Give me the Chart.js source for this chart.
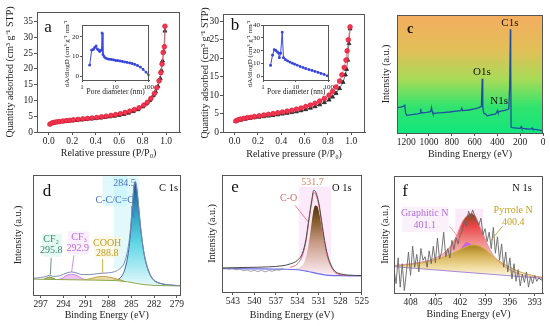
<!DOCTYPE html>
<html>
<head>
<meta charset="utf-8">
<script src="https://cdn.jsdelivr.net/npm/chart.js@4.4.0/dist/chart.umd.min.js"></script>
<style>
  body { margin: 0; background: #fff; }
  #wrap { position: relative; width: 550px; height: 326px; overflow: hidden; }
  canvas { position: absolute; }
</style>
</head>
<body>
<div id="wrap">
  <canvas id="pa"></canvas>
  <canvas id="pb"></canvas>
  <canvas id="pc"></canvas>
  <canvas id="pd"></canvas>
  <canvas id="pe"></canvas>
  <canvas id="pf"></canvas>
  <canvas id="ia"></canvas>
  <canvas id="ib"></canvas>
</div>
<script>
// -----------------------------
// Data: N2 isotherms (a, b)
// -----------------------------
const aAdsP = [0.01,0.03,0.05,0.07,0.09,0.12,0.15,0.18,0.21,0.25,0.29,0.33,0.37,0.41,0.45,0.49,0.53,0.57,0.61,0.65,0.69,0.73,0.77,0.81,0.84,0.87,0.90,0.92,0.94,0.955,0.965,0.975,0.985,0.99];
const aAdsQ = [2.5,2.9,3.1,3.2,3.3,3.45,3.6,3.7,3.85,4.0,4.15,4.3,4.45,4.6,4.8,5.0,5.25,5.5,5.8,6.2,6.6,7.1,7.7,8.5,9.4,10.6,12.2,14.0,16.2,18.8,21.5,25.2,27.0,33.5];
const aDesP = [0.99,0.98,0.97,0.96,0.95,0.93,0.91,0.89,0.86,0.83,0.80,0.76,0.72,0.68,0.64,0.60,0.56,0.52,0.48,0.44,0.40,0.36,0.32,0.28,0.24,0.20,0.16,0.12,0.08,0.04,0.01];
const aDesQ = [32.0,25.5,22.5,19.5,17.0,14.5,12.8,11.5,10.0,8.9,8.0,7.1,6.5,6.0,5.6,5.3,5.05,4.85,4.65,4.45,4.3,4.15,4.0,3.85,3.7,3.55,3.4,3.25,3.05,2.8,2.4];

const bAdsP = [0.01,0.03,0.05,0.08,0.11,0.14,0.17,0.21,0.25,0.29,0.33,0.37,0.41,0.45,0.49,0.53,0.57,0.61,0.65,0.69,0.73,0.77,0.81,0.84,0.87,0.90,0.92,0.94,0.955,0.965,0.975,0.99];
const bAdsQ = [3.0,3.3,3.5,3.7,3.9,4.0,4.2,4.4,4.6,4.8,5.0,5.2,5.4,5.65,5.9,6.2,6.5,6.9,7.3,7.8,8.4,9.1,10.0,11.0,12.2,13.8,15.5,17.5,19.5,22.0,25.0,28.5];
const bDesP = [0.99,0.98,0.97,0.96,0.95,0.93,0.90,0.87,0.84,0.81,0.77,0.73,0.69,0.65,0.61,0.57,0.53,0.49,0.45,0.41,0.37,0.33,0.29,0.25,0.21,0.17,0.13,0.09,0.05,0.01];
const bDesQ = [28.0,24.0,19.5,17.0,15.5,13.5,11.8,10.5,9.5,8.7,8.0,7.4,6.9,6.5,6.1,5.8,5.5,5.3,5.1,4.9,4.7,4.5,4.35,4.2,4.05,3.9,3.7,3.5,3.2,2.9];

const isoTicksX = [0, 0.2, 0.4, 0.6, 0.8, 1.0];
const aTicksY = [0, 5, 10, 15, 20, 25, 30, 35];
const bTicksY = [0, 5, 10, 15, 20, 25, 30];

// pore size distributions (insets)
const aPoreD = [1.7,1.95,2.2,2.4,2.65,2.9,3.15,3.4,3.65,3.85,4.0,4.25,4.6,5.1,5.8,6.6,7.6,8.8,10.2,11.8,13.8,16.2,19,22.5,27,32,38,46,56,68,83,100];
const aPoreV = [5.6,13.3,13.6,14.6,15.4,13.8,13.2,12.6,13.2,13.3,22.0,11.0,10.0,9.2,8.8,8.6,8.5,8.3,8.0,7.9,7.7,7.5,7.2,7.0,6.7,6.4,6.0,5.4,4.6,3.4,2.0,0.6];
const bPoreD = [1.7,1.95,2.2,2.45,2.75,3.0,3.15,3.45,3.85,4.2,4.8,5.6,6.6,7.8,9.2,11,13.5,16.5,20,25,31,38,47,58,72,92];
const bPoreV = [8.5,16.5,20.8,20.2,19.0,18.0,14.5,18.0,34.5,14.5,13.0,12.0,11.0,10.2,9.4,8.6,7.6,6.8,6.0,5.2,4.5,3.8,3.0,2.2,1.4,0.3];
const poreTicksX = [1, 10, 100];
const aPoreTicksY = [0, 10, 20];
const bPoreTicksY = [0, 10, 20, 30, 40];

// -----------------------------
// Data: XPS survey (c)
// -----------------------------
const cBE = [1280,1250,1225,1212,1205,1195,1150,1100,1075,1072,1068,1020,985,978,972,965,940,880,820,760,720,712,705,650,600,560,540,533,528,520,505,490,470,450,420,405,400,395,370,345,320,300,292,286,283,280,270,230,200,190,185,150,120,100,95,90,60,30,0];
const cCounts = [21.5,22.0,22.5,23.5,17.0,15.0,15.5,16.2,16.8,20.5,17.0,17.5,18.0,21.5,18.5,16.5,16.8,17.3,17.8,18.5,19.0,21.0,19.0,19.5,20.5,21.5,22.5,46,22,17,16,14.5,15.0,15.5,16.0,17.5,19.0,17.5,18.5,19,19.5,20.5,40,88,60,5,4.5,4.2,4.0,5.5,4.0,3.6,3.3,3.6,4.2,3.2,2.8,2.4,1.8];
const cTicksX = [1200, 1000, 800, 600, 400, 200, 0];

// -----------------------------
// Data: C 1s (d)
// -----------------------------
const dEnvBE = [298,297,296.3,295.8,295.3,294.5,293.5,292.9,292.3,291.5,290.5,289.5,288.8,288,287.2,286.5,286,285.6,285.2,284.9,284.7,284.5,284.3,284.1,283.8,283.4,283,282.5,282,281,280,279,278.5];
const dEnv = [14,14.5,15.5,16.5,15.5,16,18.5,19.2,18.5,17,17,17.8,18.2,18.5,19.5,22,26,34,50,72,88,95,90,78,58,38,26,17,12.5,9.5,8.5,8,7.8];
const dBgBE = [298,290,287,285.5,284.5,283.5,282,278.5];
const dBg = [13.2,12.4,12.0,11.0,9.8,8.8,8.0,7.5];
const dCCBE = [288,287,286.5,286,285.6,285.2,284.9,284.7,284.5,284.3,284.1,283.8,283.4,283,282.5,282,281,280,279,278.5];
const dCC = [12.0,12.5,14,19,28,46,70,87,94,89,77,57,37,25,16.5,12,9.3,8.3,7.8,7.5];
const dCF3BE = [294.8,294,293.5,292.9,292.3,291.6,291];
const dCF3 = [12.5,14.5,16.5,17.3,16.5,14,12.3];
const dCOOHBE = [291.5,290.5,289.5,288.8,288,287,286];
const dCOOH = [12.1,13.5,15,15.5,15,13.5,11.8];
const dCF2BE = [296.6,296.2,295.8,295.4,295];
const dCF2 = [13,14.2,15,14.2,13];
const dTicksX = [297, 294, 291, 288, 285, 282, 279];

// -----------------------------
// Data: O 1s (e)
// -----------------------------
const eEnvBE = [545,541,538,536,535,534,533.3,532.8,532.4,532,531.7,531.4,531,530.6,530.2,529.8,529.3,528.8,528,527,525];
const eEnv = [20.5,21,21.5,22.5,24,27,33,45,62,78,87,85,76,60,44,32,23,18,15.5,14.5,14];
const eCompBE = [535,534,533.3,532.8,532.4,532,531.7,531.4,531,530.6,530.2,529.8,529.3,528.8,528,527];
const eComp = [21,24,31,43,60,76,85,83,74,58,42,30,22,17,14.8,14.2];
const eFillBE = [534.5,533.5,533,532.5,532.1,531.8,531.5,531.2,530.9,530.5,530.1,529.6,529,528.3,527.5];
const eFill = [19.5,22,26,38,55,68,74,73,66,52,38,26,19,15.5,14.3];
const eBgBE = [545,540,536,534,532.5,531,530,528,525];
const eBg = [20,19.8,19.5,19,17.5,15.5,14.5,14,13.8];
const eRawBE = [544,543.5,543,542.5,542,541.5,541,540.5,540,539.5,539,538.5,538,537.5,537,536.5,536];
const eRaw = [20.2,19.6,20.0,19.0,19.6,18.2,18.9,17.6,18.6,17.4,18.5,17.2,18.3,17.8,18.9,18.6,20.0];
const eTicksX = [543, 540, 537, 534, 531, 528, 525];

// -----------------------------
// Data: N 1s (f)
// -----------------------------
const fRawBE = [410,409.75,409.5,409.25,409,408.75,408.5,408.25,408,407.75,407.5,407.25,407,406.75,406.5,406.25,406,405.75,405.5,405.25,405,404.75,404.5,404.25,404,403.75,403.5,403.25,403,402.75,402.5,402.25,402,401.75,401.5,401.25,401,400.75,400.5,400.25,400,399.75,399.5,399.25,399,398.75,398.5,398.25,398,397.75,397.5,397.25,397,396.75,396.5,396.25,396,395.75,395.5,395.25,395,394.75,394.5,394.25,394,393.75,393.5,393.25,393,392.75,392.5,392.25,392];
const fRaw = [20,8,30,5,25,2,18,35,15,40,22,33,18,38,28,31,22,36,25,40,26,47,29,35,52,31,38,30,45,37,47,42,50,53,61,57,70,65,71,66,62,58,64,50,55,44,52,38,56,34,48,28,42,22,35,18,30,12,25,10,20,6,16,9,18,5,14,8,15,10,13,11,12];
const fEnvBE = [410,408,406,405,404,403.2,402.5,401.8,401.2,400.7,400.2,399.7,399.2,398.8,398,397.2,396.5,395.5,394.5,393,392];
const fEnv = [23.5,25,27.5,30,34,40,48,60,66,68,66,58,50,43,32,26,22,18,15.5,14,13.5];
const fPyrBE = [410,408,406,404.5,403.3,402.3,401.3,400.4,399.5,398.7,398,397,396,395,394,393,392];
const fPyr = [23,24.5,26.5,29.5,32.6,36,39.5,41,39.5,35.5,31,26,22,18.5,16.5,14.5,13];
const fGraBE = [403.5,402.8,402.2,401.7,401.2,400.7,400.2,399.6,399];
const fGra = [24,28,34,39.5,43,41,36,30,24];
const fBgBE = [410,392];
const fBg = [22.5,12.5];
const fTicksX = [408, 405, 402, 399, 396, 393];

// -----------------------------
// Helpers
// -----------------------------
const SERIF = "'Liberation Serif', 'Times New Roman', serif";
Chart.defaults.font.family = SERIF;
Chart.defaults.color = '#222';
Chart.defaults.animation = false;
Chart.defaults.responsive = false;
Chart.defaults.plugins.legend.display = false;
Chart.defaults.plugins.tooltip.enabled = false;
Chart.defaults.elements.point.radius = 0;
Chart.defaults.elements.line.borderWidth = 1;

function place(id, left, top, w, h) {
    const c = document.getElementById(id);
    c.width = w; c.height = h;
    c.style.left = left + 'px'; c.style.top = top + 'px';
    return c;
}

function pts(xs, ys) {
    return xs.map((v, i) => ({ x: v, y: ys[i] }));
}

function bottomAxis(o) {
    return {
        type: o.log ? 'logarithmic' : 'linear',
        min: o.min, max: o.max, reverse: !!o.reverse,
        afterBuildTicks: s => { s.ticks = o.ticks.map(v => ({ value: v })); },
        afterFit: s => { s.height = o.size; },
        grid: { drawOnChartArea: false, tickLength: o.tickLen || 3, color: '#555' },
        border: { color: '#555' },
        ticks: { font: { size: o.font || 9.5 }, color: '#222', padding: 1, maxRotation: 0, autoSkip: false, callback: o.fmt || (v => String(v)) },
        title: { display: true, text: o.title, font: { size: o.titleFont || 10 }, color: '#222', padding: { top: 0, bottom: o.titlePad || 0 } }
    };
}

function leftAxis(o) {
    const axis = {
        type: 'linear', min: o.min, max: o.max,
        afterFit: s => { s.width = o.size; },
        grid: { drawOnChartArea: false, tickLength: o.tickLen || 3, color: '#555', display: !!o.ticks },
        border: { color: '#555' },
        ticks: { display: !!o.ticks, font: { size: o.font || 9.5 }, color: '#222', padding: 1 },
        title: { display: true, text: o.title, font: { size: o.titleFont || 10 }, color: '#222', padding: { top: o.titlePad || 0, bottom: 0 } }
    };
    if (o.ticks) axis.afterBuildTicks = s => { s.ticks = o.ticks.map(v => ({ value: v })); };
    return axis;
}

// vertical gradient between two data levels of the y scale
function vGrad(stops, yTop, yBottom) {
    return ctx => {
        const chart = ctx.chart;
        if (!chart.chartArea) return 'transparent';
        const y = chart.scales.y;
        const g = chart.ctx.createLinearGradient(0, y.getPixelForValue(yTop), 0, y.getPixelForValue(yBottom));
        stops.forEach(s => g.addColorStop(s[0], s[1]));
        return g;
    };
}

// -----------------------------
// Plugins: frame box, notes (glow boxes, leader lines, labels)
// -----------------------------
const framePlugin = {
    id: 'frame',
    beforeDraw(chart, args, opts) {
        if (!opts.background) return;
        const a = chart.chartArea, c = chart.ctx;
        c.save();
        c.fillStyle = opts.background;
        c.fillRect(a.left, a.top, a.width, a.height);
        c.restore();
    },
    afterDraw(chart) {
        const a = chart.chartArea, c = chart.ctx;
        c.save();
        c.strokeStyle = '#555';
        c.lineWidth = 1;
        c.strokeRect(Math.round(a.left) + 0.5, Math.round(a.top) + 0.5, Math.round(a.width) - 1, Math.round(a.height));
        c.restore();
    }
};

const notesPlugin = {
    id: 'notes',
    beforeDatasetsDraw(chart, args, opts) {
        const { ctx, scales: { x, y } } = chart;
        (opts.boxes || []).forEach(b => {
            const x1 = x.getPixelForValue(b.x1), x2 = x.getPixelForValue(b.x2);
            const y1 = y.getPixelForValue(b.y1), y2 = y.getPixelForValue(b.y2);
            ctx.save();
            ctx.fillStyle = b.color;
            ctx.fillRect(Math.min(x1, x2), Math.min(y1, y2), Math.abs(x2 - x1), Math.abs(y2 - y1));
            ctx.restore();
        });
    },
    afterDatasetsDraw(chart, args, opts) {
        const { ctx, chartArea, scales: { x, y } } = chart;
        ctx.save();
        (opts.lines || []).forEach(l => {
            ctx.strokeStyle = l.color;
            ctx.lineWidth = 0.8;
            ctx.beginPath();
            ctx.moveTo(x.getPixelForValue(l.x1), y.getPixelForValue(l.y1));
            ctx.lineTo(x.getPixelForValue(l.x2), y.getPixelForValue(l.y2));
            ctx.stroke();
        });
        ctx.textAlign = 'center';
        ctx.textBaseline = 'middle';
        (opts.labels || []).forEach(t => {
            ctx.font = (t.bold ? 'bold ' : '') + (t.size || 10) + 'px ' + SERIF;
            ctx.fillStyle = t.color || '#111';
            let px, py;
            if (t.dx !== undefined) {
                px = t.dx >= 0 ? chartArea.left + t.dx : chartArea.right + t.dx;
                py = chartArea.top + t.dy;
            } else {
                px = x.getPixelForValue(t.x);
                py = y.getPixelForValue(t.y);
            }
            ctx.fillText(t.text, px, py);
        });
        ctx.restore();
    }
};

const surveyBgPlugin = {
    id: 'surveyBg',
    beforeDraw(chart) {
        const a = chart.chartArea, c = chart.ctx;
        const g = c.createLinearGradient(0, a.top, 0, a.bottom);
        g.addColorStop(0, '#f4ad60');
        g.addColorStop(0.3, '#e2bf58');
        g.addColorStop(0.55, '#a6dc58');
        g.addColorStop(0.78, '#30e46e');
        g.addColorStop(1, '#12e67c');
        c.save();
        c.fillStyle = g;
        c.fillRect(a.left, a.top, a.width, a.height);
        c.restore();
    }
};

const fmt1 = v => v.toFixed(1);

// -----------------------------
// (a) isotherm
// -----------------------------
new Chart(place('pa', 0, 0, 185, 160), {
    type: 'line',
    data: { datasets: [
        { data: pts(aAdsP, aAdsQ), borderColor: '#f06a80', backgroundColor: '#f2364f', pointBorderColor: '#e0203c', pointRadius: 2.3, borderWidth: 0.8 },
        { data: pts(aDesP, aDesQ), borderColor: '#555', backgroundColor: '#333', pointBorderColor: '#222', pointStyle: 'triangle', pointRadius: 2.3, borderWidth: 0.8 }
    ] },
    options: {
        layout: { padding: { top: 12, right: 2 } },
        scales: {
            x: bottomAxis({ min: -0.1, max: 1.12, ticks: isoTicksX, size: 28, fmt: fmt1, title: 'Relative pressure (P/P\u2080)', titlePad: 1 }),
            y: leftAxis({ min: 0, max: 38, ticks: aTicksY, size: 37, title: 'Quantity adsorbed (cm\u00b3 g\u207b\u00b9 STP)', titlePad: 4 })
        },
        plugins: { notes: { labels: [{ text: 'a', dx: 11, dy: 16, size: 17 }] } }
    },
    plugins: [framePlugin, notesPlugin]
});

// -----------------------------
// (b) isotherm
// -----------------------------
new Chart(place('pb', 185, 0, 185, 160), {
    type: 'line',
    data: { datasets: [
        { data: pts(bAdsP, bAdsQ), borderColor: '#f06a80', backgroundColor: '#f2364f', pointBorderColor: '#e0203c', pointRadius: 2.3, borderWidth: 0.8 },
        { data: pts(bDesP, bDesQ), borderColor: '#555', backgroundColor: '#333', pointBorderColor: '#222', pointStyle: 'triangle', pointRadius: 2.3, borderWidth: 0.8 }
    ] },
    options: {
        layout: { padding: { top: 14, right: 1 } },
        scales: {
            x: bottomAxis({ min: -0.1, max: 1.12, ticks: isoTicksX, size: 28, fmt: fmt1, title: 'Relative pressure (P/P\u2080)', titlePad: 0 }),
            y: leftAxis({ min: 0, max: 32, ticks: bTicksY, size: 38, title: 'Quantity adsorbed (cm\u00b3 g\u207b\u00b9 STP)', titlePad: 14 })
        },
        plugins: { notes: { labels: [{ text: 'b', dx: 12, dy: 12, size: 17 }] } }
    },
    plugins: [framePlugin, notesPlugin]
});

// -----------------------------
// insets: pore size distribution
// -----------------------------
function insetChart(id, left, width, xs, ys, yMin, yMax, yTicks, yWidth) {
    return new Chart(place(id, left, 20, width, 78), {
        type: 'line',
        data: { datasets: [
            { data: pts(xs, ys), borderColor: '#3b48e0', backgroundColor: '#2b38d0', pointStyle: 'rect', pointRadius: 1.2, borderWidth: 1 }
        ] },
        options: {
            layout: { padding: { top: 3, right: 4 } },
            scales: {
                x: bottomAxis({ log: true, min: 1, max: 105, ticks: poreTicksX, size: 18, font: 7, tickLen: 2, title: 'Pore diameter (nm)', titleFont: 7.5, titlePad: 1 }),
                y: leftAxis({ min: yMin, max: yMax, ticks: yTicks, size: yWidth, font: 7, tickLen: 2, title: 'dA/dlogD (cm\u00b3 g\u207b\u00b9 nm\u207b\u00b9)', titleFont: 7, titlePad: 3 })
            },
            plugins: { frame: { background: '#fff' } }
        },
        plugins: [framePlugin]
    });
}
insetChart('ia', 60, 95, aPoreD, aPoreV, -2, 26, aPoreTicksY, 22);
insetChart('ib', 243, 92, bPoreD, bPoreV, -3, 40, bPoreTicksY, 20);

// -----------------------------
// (c) survey
// -----------------------------
new Chart(place('pc', 370, 0, 180, 160), {
    type: 'line',
    data: { datasets: [
        { data: pts(cBE, cCounts), borderColor: '#1f4fa0', borderWidth: 1.3 }
    ] },
    options: {
        layout: { padding: { top: 15, right: 7 } },
        scales: {
            x: bottomAxis({ min: 0, max: 1280, reverse: true, ticks: cTicksX, size: 27, title: 'Binding Energy (eV)', titlePad: 0 }),
            y: leftAxis({ min: 0, max: 100, size: 27, title: 'Intensity (a.u.)', titlePad: 10 })
        },
        plugins: { notes: { labels: [
            { text: 'c', dx: 13, dy: 14, size: 14, bold: true },
            { text: 'C1s', x: 290, y: 93, size: 11 },
            { text: 'O1s', x: 535, y: 52, size: 11 },
            { text: 'N1s', x: 385, y: 27, size: 11 }
        ] } }
    },
    plugins: [surveyBgPlugin, framePlugin, notesPlugin]
});

// -----------------------------
// (d) C 1s
// -----------------------------
new Chart(place('pd', 0, 163, 185, 163), {
    type: 'line',
    data: { datasets: [
        { data: pts(dEnvBE, dEnv), borderColor: '#7c8cb0', borderWidth: 1, cubicInterpolationMode: 'monotone' },
        { data: pts(dBgBE, dBg), borderColor: '#8fa84a', borderWidth: 1, fill: 'start', backgroundColor: '#fff' },
        { data: pts(dCF2BE, dCF2), borderColor: '#7c8a3a', fill: 'start', backgroundColor: 'rgba(160,170,80,0.75)', cubicInterpolationMode: 'monotone' },
        { data: pts(dCOOHBE, dCOOH), borderColor: '#c0a040', fill: 'start', backgroundColor: 'rgba(215,195,110,0.6)', cubicInterpolationMode: 'monotone' },
        { data: pts(dCF3BE, dCF3), borderColor: '#c486e6', fill: 'start', backgroundColor: 'rgba(230,170,235,0.7)', cubicInterpolationMode: 'monotone' },
        { data: pts(dCCBE, dCC), borderColor: '#3a64a0', fill: 'start', cubicInterpolationMode: 'monotone',
          backgroundColor: vGrad([[0, '#1d4f86'], [0.3, '#2f9fc4'], [0.6, '#62d8e6'], [1, '#e4f9fb']], 94, 8) }
    ] },
    options: {
        layout: { padding: { top: 12, right: 4 } },
        scales: {
            x: bottomAxis({ min: 278.5, max: 298, reverse: true, ticks: dTicksX, size: 31, title: 'Binding Energy (eV)', titlePad: 5 }),
            y: leftAxis({ min: 0, max: 100, size: 33, title: 'Intensity (a.u.)', titlePad: 12 })
        },
        plugins: { notes: {
            boxes: [
                { x1: 287.3, x2: 284.0, y1: 22, y2: 99, color: 'rgba(160,236,246,0.3)' },
                { x1: 288.8, x2: 285.6, y1: 74, y2: 99, color: 'rgba(185,242,248,0.45)' },
                { x1: 296.8, x2: 294.2, y1: 32, y2: 51, color: 'rgba(205,242,232,0.5)' },
                { x1: 293.4, x2: 290.6, y1: 34, y2: 53, color: 'rgba(248,222,248,0.5)' },
                { x1: 289.9, x2: 286.4, y1: 31, y2: 49, color: 'rgba(250,244,212,0.5)' }
            ],
            lines: [
                { x1: 295.6, y1: 31, x2: 295.7, y2: 17, color: '#4a7a5a' },
                { x1: 292.6, y1: 33, x2: 292.9, y2: 19, color: '#b77be0' },
                { x1: 288.8, y1: 30, x2: 288.8, y2: 18.5, color: '#c8a028' },
                { x1: 285.0, y1: 74, x2: 284.6, y2: 64, color: '#4a70c0' }
            ],
            labels: [
                { text: 'd', dx: 14, dy: 17, size: 17 },
                { text: 'C 1s', dx: -12, dy: 13, size: 10.5 },
                { text: '284.5', x: 285.9, y: 93, color: '#4a72c8', size: 10 },
                { text: 'C-C/C=C', x: 287.2, y: 79, color: '#4a72c8', size: 10 },
                { text: 'CF\u2082', x: 295.6, y: 46, color: '#3d8a6a', size: 10 },
                { text: '295.8', x: 295.6, y: 37, color: '#3d8a6a', size: 10 },
                { text: 'CF\u2083', x: 291.9, y: 48, color: '#b46fe0', size: 10 },
                { text: '292.9', x: 292.1, y: 39, color: '#b46fe0', size: 10 },
                { text: 'COOH', x: 288.2, y: 43, color: '#c89a1e', size: 10 },
                { text: '288.8', x: 288.2, y: 35, color: '#c89a1e', size: 10 }
            ]
        } }
    },
    plugins: [framePlugin, notesPlugin]
});

// -----------------------------
// (e) O 1s
// -----------------------------
new Chart(place('pe', 185, 163, 185, 163), {
    type: 'line',
    data: { datasets: [
        { data: pts(eRawBE, eRaw), borderColor: '#8a8a8a', borderWidth: 0.8 },
        { data: pts(eEnvBE, eEnv), borderColor: '#4a4a4a', borderWidth: 1, cubicInterpolationMode: 'monotone' },
        { data: pts(eCompBE, eComp), borderColor: '#e86878', borderWidth: 1, cubicInterpolationMode: 'monotone' },
        { data: pts(eBgBE, eBg), borderColor: '#6c6cea', borderWidth: 1.2, fill: 'start', backgroundColor: '#fff', cubicInterpolationMode: 'monotone' },
        { data: pts(eFillBE, eFill), borderColor: 'rgba(0,0,0,0)', fill: 'start', cubicInterpolationMode: 'monotone',
          backgroundColor: vGrad([[0, '#4e3410'], [0.25, '#8a6030'], [0.55, '#c89c88'], [1, '#fbe8ee']], 74, 16) }
    ] },
    options: {
        layout: { padding: { top: 12, right: 0 } },
        scales: {
            x: bottomAxis({ min: 525, max: 544.5, reverse: true, ticks: eTicksX, size: 34, title: 'Binding Energy (eV)', titlePad: 5 }),
            y: leftAxis({ min: 0, max: 100, size: 37, title: 'Intensity (a.u.)', titlePad: 21 })
        },
        plugins: { notes: {
            boxes: [
                { x1: 533.8, x2: 529.3, y1: 27, y2: 90, color: 'rgba(250,214,246,0.5)' }
            ],
            lines: [
                { x1: 534.3, y1: 74, x2: 532.5, y2: 60, color: '#e06070' }
            ],
            labels: [
                { text: 'e', dx: 13, dy: 13, size: 17 },
                { text: 'O 1s', dx: -20, dy: 13, size: 10.5 },
                { text: '531.7', x: 531.9, y: 94, color: '#d0886c', size: 10 },
                { text: 'C-O', x: 535.2, y: 80, color: '#d07060', size: 10 }
            ]
        } }
    },
    plugins: [framePlugin, notesPlugin]
});

// -----------------------------
// (f) N 1s
// -----------------------------
new Chart(place('pf', 370, 163, 180, 163), {
    type: 'line',
    data: { datasets: [
        { data: pts(fRawBE, fRaw), borderColor: '#666', borderWidth: 0.9 },
        { data: pts(fEnvBE, fEnv), borderColor: '#e6909a', borderWidth: 1, cubicInterpolationMode: 'monotone' },
        { data: pts(fBgBE, fBg), borderColor: '#a888dc', borderWidth: 1, fill: 'start', backgroundColor: '#fff' },
        { data: pts(fPyrBE, fPyr), borderColor: '#cfae3c', borderWidth: 1, fill: 'start', cubicInterpolationMode: 'monotone',
          backgroundColor: vGrad([[0, '#a8821e'], [0.35, '#d8b45a'], [0.7, '#f0dca0'], [1, '#fdf6e0']], 41, 14) },
        { data: pts(fGraBE, fGra), borderColor: '#c45ee0', borderWidth: 1, fill: 'start', backgroundColor: '#cf62e6', cubicInterpolationMode: 'monotone' },
        { data: pts(fEnvBE, fEnv), borderColor: 'rgba(0,0,0,0)', fill: 'start', cubicInterpolationMode: 'monotone',
          backgroundColor: vGrad([[0, '#7a4a20'], [0.2, '#e84444'], [0.55, '#f59a9a'], [1, '#fde4e4']], 68, 18) }
    ] },
    options: {
        layout: { padding: { top: 13, right: 7 } },
        scales: {
            x: bottomAxis({ min: 392, max: 410, reverse: true, ticks: fTicksX, size: 33, title: 'Binding Energy (eV)', titlePad: 6 }),
            y: leftAxis({ min: 0, max: 100, size: 24, title: 'Intensity (a.u.)', titlePad: 9 })
        },
        plugins: { notes: {
            boxes: [
                { x1: 402.6, x2: 399.2, y1: 37, y2: 72, color: 'rgba(250,208,240,0.45)' },
                { x1: 409.0, x2: 403.4, y1: 52, y2: 74, color: 'rgba(246,220,246,0.4)' }
            ],
            lines: [
                { x1: 403.3, y1: 57, x2: 402.0, y2: 46, color: '#e08aa0' },
                { x1: 396.9, y1: 57, x2: 398.4, y2: 44, color: '#b89a30' }
            ],
            labels: [
                { text: 'f', dx: 11, dy: 16, size: 17 },
                { text: 'N 1s', dx: -21, dy: 12, size: 10.5 },
                { text: 'Graphitic N', x: 406.3, y: 68, color: '#b06ee0', size: 10 },
                { text: '401.1', x: 406.3, y: 58, color: '#b06ee0', size: 10 },
                { text: 'Pyrrole N', x: 395.6, y: 71, color: '#c8a020', size: 10 },
                { text: '400.4', x: 395.6, y: 60, color: '#c8a020', size: 10 }
            ]
        } }
    },
    plugins: [framePlugin, notesPlugin]
});
</script>
</body>
</html>
